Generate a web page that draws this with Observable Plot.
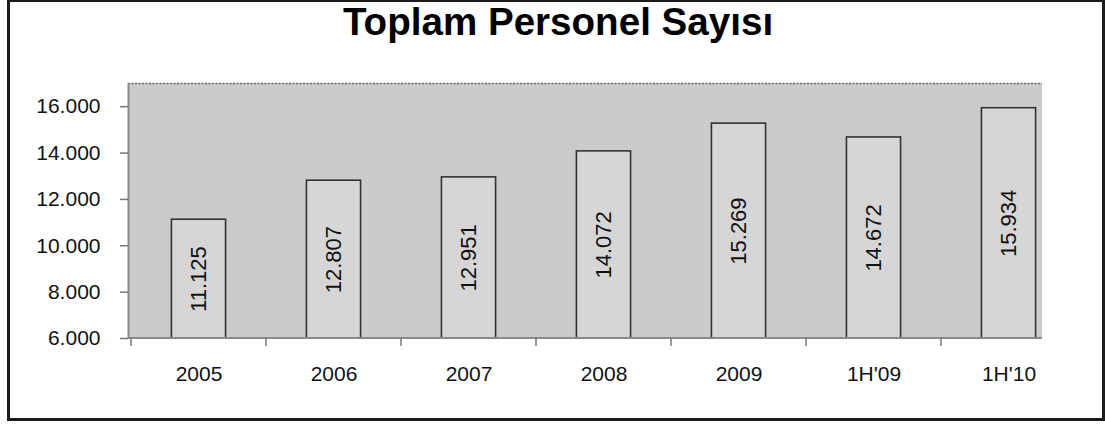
<!DOCTYPE html>
<html><head><meta charset="utf-8">
<script src="https://cdn.jsdelivr.net/npm/d3@7"></script>
<script src="https://cdn.jsdelivr.net/npm/@observablehq/plot@0.6"></script>
<style>
body{margin:0;background:#fff;font-family:"Liberation Sans",Arial,sans-serif;}
#frame{position:absolute;left:7px;top:0;width:1092px;height:416px;border:3px solid #1c1c1c;border-top-width:2px;pointer-events:none;}
#title{position:absolute;left:0;top:3px;width:1116px;text-align:center;font-size:38.6px;line-height:1;font-weight:bold;color:#000;}
#chart{position:absolute;left:0;top:0;}
</style></head>
<body>
<div id="chart"></div>
<div id="title">Toplam Personel Sayısı</div>
<div id="frame"></div>
<script>
const categories = ["2005", "2006", "2007", "2008", "2009", "1H'09", "1H'10"];
const values = [11125, 12807, 12951, 14072, 15269, 14672, 15934];
const yTicks = [6000, 8000, 10000, 12000, 14000, 16000];
const yDomain = [6000, 17000];

const data = categories.map((c, i) => ({cat: c, value: values[i]}));
const fmt = d3.formatLocale({thousands: ".", grouping: [3], decimal: ","}).format(",d");

const W = 1105, H = 425, mL = 128, mR = 63, mT = 83, mB = 87;
const xRange = [mL, 1079];
const step = (xRange[1] - xRange[0]) / categories.length;
const barW = 55;
const inset = (step - barW) / 2;

function background(index, scales, values, dims) {
  const g = d3.create("svg:g");
  const x0 = dims.marginLeft, x1 = dims.width - dims.marginRight;
  const y0 = dims.marginTop, y1 = dims.height - dims.marginBottom;
  g.append("rect").attr("x", x0).attr("y", y0).attr("width", x1 - x0).attr("height", y1 - y0).attr("fill", "#cbcbcb");
  return g.node();
}
function axesLines(index, scales, values, dims) {
  const g = d3.create("svg:g");
  const x0 = dims.marginLeft, x1 = dims.width - dims.marginRight;
  const y0 = dims.marginTop, y1 = dims.height - dims.marginBottom;
  g.append("line").attr("x1", x0).attr("x2", x1).attr("y1", y0 + 0.5).attr("y2", y0 + 0.5)
    .attr("stroke", "#6a6a6a").attr("stroke-width", 1.5).attr("stroke-dasharray", "2,1.5");
  g.append("line").attr("x1", x0 + 0.5).attr("x2", x0 + 0.5).attr("y1", y0).attr("y2", y1)
    .attr("stroke", "#8a8a8a").attr("stroke-width", 2);
  g.append("line").attr("x1", x0).attr("x2", x1).attr("y1", y1).attr("y2", y1)
    .attr("stroke", "#8a8a8a").attr("stroke-width", 2);
  for (const c of categories) {
    const xx = scales.x(c);
    g.append("line").attr("x1", xx).attr("x2", xx).attr("y1", y1).attr("y2", y1 + 8)
      .attr("stroke", "#777").attr("stroke-width", 1.5);
  }
  return g.node();
}

const chart = Plot.plot({
  width: W, height: H,
  marginLeft: mL, marginRight: mR, marginTop: mT, marginBottom: mB,
  style: {fontFamily: '"Liberation Sans", Arial, sans-serif', color: "#111", background: "transparent"},
  x: {type: "band", domain: categories, range: xRange, padding: 0, label: null},
  y: {domain: yDomain, label: null},
  marks: [
    background,
    Plot.barY(data, {x: "cat", y: "value", fill: "#d6d6d6", stroke: "#333", strokeWidth: 1.6,
      insetLeft: inset, insetRight: inset, clip: true}),
    axesLines,
    Plot.text(data, {x: "cat", y: d => (d.value + yDomain[0]) / 2, text: d => fmt(d.value),
      rotate: -90, fontSize: 22, fill: "#111"}),
    Plot.axisY({ticks: yTicks, tickFormat: fmt, tickSize: 8, tickPadding: 20, fontSize: 21, stroke: "#777", strokeWidth: 1.5, fill: "#111", label: null}),
    Plot.axisX({tickSize: 0, tickPadding: 28, fontSize: 21, fill: "#111", label: null})
  ]
});
document.getElementById("chart").appendChild(chart);
</script>
</body></html>
